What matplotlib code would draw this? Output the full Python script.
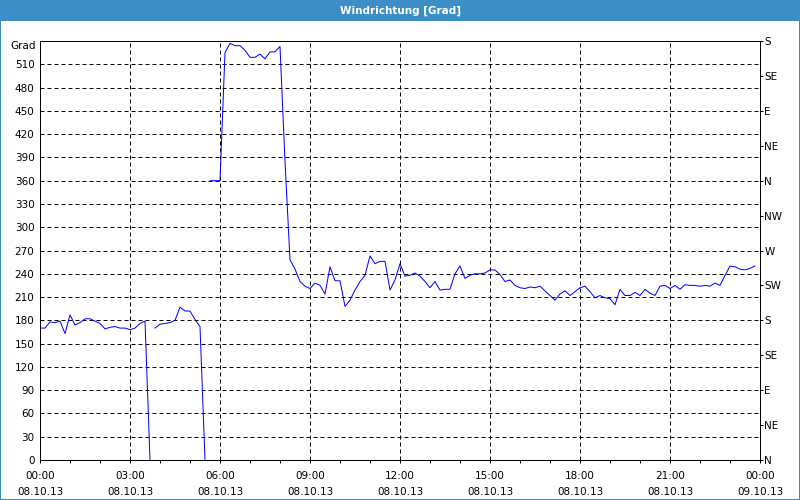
import numpy as np
import matplotlib.pyplot as plt
from matplotlib.patches import Rectangle

# wind direction, 10 minute samples (degrees)
step_h = 10 / 60

seg1_start = 0.0
seg1 = [170, 170, 178, 177, 179, 163, 187, 174, 177, 182, 182, 179, 176, 169,
        171, 172, 170, 170, 168, 170, 176, 179, 0]
seg2_start = 23 * step_h
seg2 = [170, 175, 176, 177, 180, 197, 192, 192, 181, 172, 0]
seg3_start = 34 * step_h
seg3 = [360, 360, 360, 525, 537, 534, 534, 528, 519, 519, 523, 517, 526, 526, 533,
        385, 258, 246, 230, 224, 221, 228, 225, 214, 249, 231, 231, 198, 206, 219,
        230, 238, 263, 253, 256, 256, 219, 232, 253, 237, 238, 241, 237, 230, 222,
        230, 219, 220, 220, 240, 250, 234, 238, 240, 240, 241, 245, 245, 239, 230,
        232, 225, 222, 221, 223, 222, 224, 218, 212, 206, 214, 218, 212, 217, 222,
        224, 217, 209, 212, 209, 208, 200, 220, 212, 212, 216, 212, 220, 215, 212,
        224, 225, 221, 225, 220, 226, 225, 225, 224, 225, 224, 228, 225, 238, 250,
        249, 246, 245, 247, 250]

x_ticks = [0, 3, 6, 9, 12, 15, 18, 21, 24]
x_labels = ["00:00\n08.10.13", "03:00\n08.10.13", "06:00\n08.10.13",
            "09:00\n08.10.13", "12:00\n08.10.13", "15:00\n08.10.13",
            "18:00\n08.10.13", "21:00\n08.10.13", "00:00\n09.10.13"]
y_ticks = list(range(0, 540, 30))
compass = ["N", "NE", "E", "SE", "S", "SW", "W", "NW", "N", "NE", "E", "SE", "S"]

fs = 7.5
px = 0.72  # one pixel in points

fig = plt.figure(figsize=(8, 5), dpi=100, facecolor='white')
fig.patches.append(Rectangle((0, 1 - 21 / 500), 1, 21 / 500, transform=fig.transFigure,
                             facecolor='#3c8fc6', edgecolor='none', zorder=0))
fig.patches.append(Rectangle((0, 0), 1, 1, transform=fig.transFigure, fill=False,
                             edgecolor='#3c8fc6', linewidth=2 * px, zorder=5))
fig.text(0.5, 1 - 10.5 / 500, "Windrichtung [Grad]", color='white', fontweight='bold',
         fontsize=fs, ha='center', va='center')

ax = fig.add_axes([40 / 800, 40 / 500, 720 / 800, 419 / 500])
ax.set_facecolor('white')

for start, seg in [(seg1_start, seg1), (seg2_start, seg2), (seg3_start, seg3)]:
    t = start + step_h * np.arange(len(seg))
    ax.plot(t, seg, color='#0000ff', linewidth=px, zorder=3)

ax.set_xlim(0, 24)
ax.set_ylim(0, 540)
ax.set_xticks(x_ticks)
ax.set_xticklabels(x_labels, linespacing=1.75)
ax.set_xticks(range(0, 25), minor=True)
ax.set_yticks(y_ticks)
ax.tick_params(axis='x', which='both', direction='out', length=3 * px, width=px,
               labelsize=fs, pad=6)
ax.tick_params(axis='y', length=0, pad=4, labelsize=fs)
ax.annotate("Grad", xy=(0, 540), xycoords=('axes fraction', 'data'), xytext=(-3, 0),
            textcoords='offset points', ha='right', va='top', fontsize=fs)

ax.grid(True, color='black', linewidth=px, linestyle=(0, (4, 3)))
for s in ax.spines.values():
    s.set_linewidth(px)
    s.set_color('black')

ax2 = ax.twinx()
ax2.set_ylim(0, 540)
ax2.set_yticks(range(0, 541, 45))
ax2.set_yticklabels(compass)
ax2.tick_params(axis='y', direction='out', length=3 * px, width=px, pad=1, labelsize=fs)
for s in ax2.spines.values():
    s.set_linewidth(px)

fig.savefig("out.png", dpi=100)
